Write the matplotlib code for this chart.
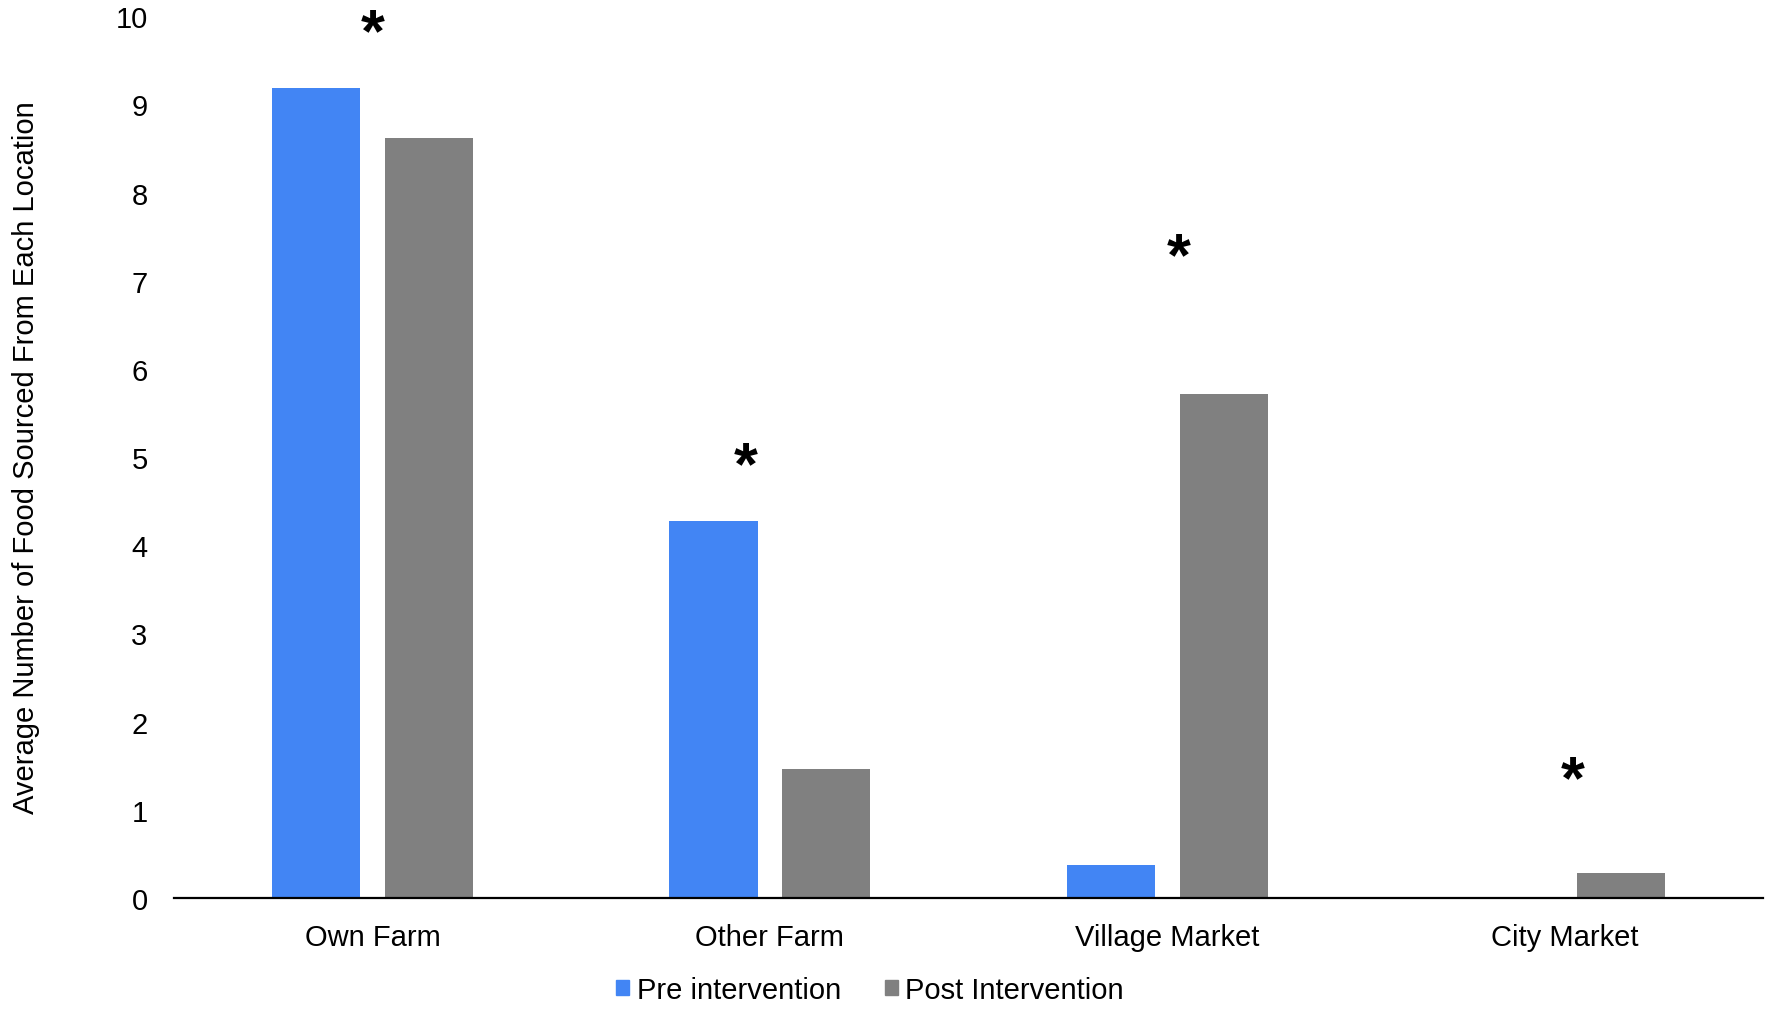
import numpy as np
import matplotlib.pyplot as plt
import matplotlib.patches as mpatches

plt.rcParams['font.family'] = ['Liberation Sans', 'DejaVu Sans']

locations = ['Own Farm', 'Other Farm', 'Village Market', 'City Market']
pre_values = [9.19, 4.27, 0.37, 0.0]
post_values = [8.62, 1.46, 5.71, 0.28]
series_names = ['Pre intervention', 'Post Intervention']

# significance markers (x in category units, y in data units)
star_x = [0.0, 0.94, 2.03, 3.02]
star_y = [9.79, 4.88, 7.25, 1.32]

blue = '#4285F4'
gray = '#808080'

fig = plt.figure(figsize=(17.72, 10.12), dpi=100)
ax = fig.add_axes([0.0982, 0.1117, 0.8968, 0.8713])

x = np.arange(len(locations))
width = 0.222
offset = 0.142
ax.bar(x - offset, pre_values, width, color=blue)
ax.bar(x + offset, post_values, width, color=gray)

for sx, sy in zip(star_x, star_y):
    ax.text(sx, sy, '*', ha='center', va='center', fontsize=44, fontweight='bold',
            color='black', clip_on=False)

ax.set_xlim(-0.5, 3.5)
ax.set_ylim(0, 10)
ax.set_yticks(range(0, 11))
ax.set_xticks(x)
ax.set_xticklabels(locations)
ax.tick_params(axis='both', length=0, labelsize=21)
ax.tick_params(axis='y', pad=19)
ax.tick_params(axis='x', pad=18)

for side in ['top', 'right', 'left']:
    ax.spines[side].set_visible(False)
ax.spines['bottom'].set_linewidth(1.6)

ax.set_ylabel('Average Number of Food Sourced From Each Location', fontsize=21, labelpad=54)

handles = [mpatches.Patch(color=blue, label=series_names[0]),
           mpatches.Patch(color=gray, label=series_names[1])]
fig.legend(handles=handles, loc='center', bbox_to_anchor=(0.491, 0.0208), ncol=2,
           frameon=False, fontsize=21, handlelength=0.45, handleheight=0.45,
           handletextpad=0.25, columnspacing=1.5)

fig.savefig('out.png', dpi=100)
